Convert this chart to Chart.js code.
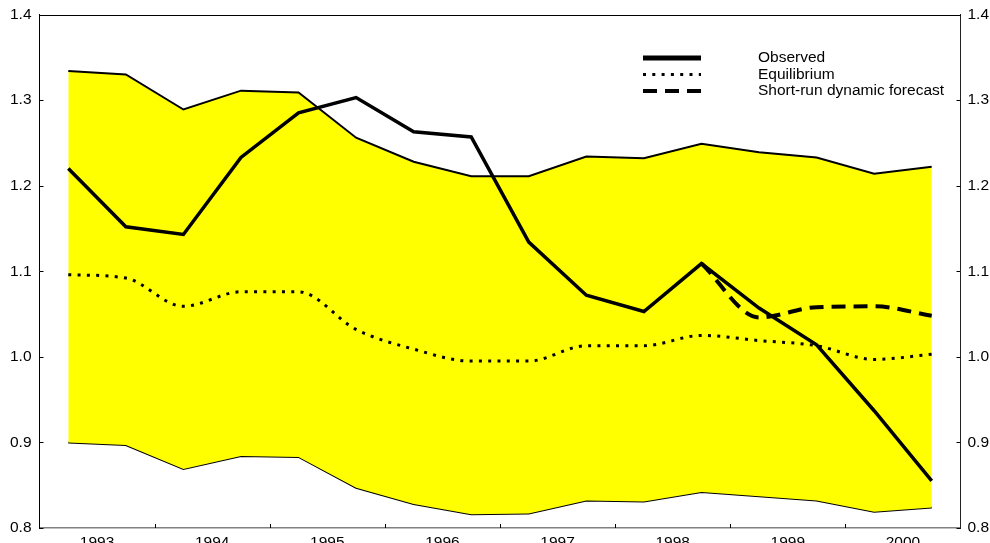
<!DOCTYPE html>
<html>
<head>
<meta charset="utf-8">
<title>Observed vs equilibrium</title>
<script src="https://cdn.jsdelivr.net/npm/chart.js@4.4.1/dist/chart.umd.min.js"></script>
<style>
  html, body { margin: 0; padding: 0; background: #fff; overflow: hidden; }
  #wrap { width: 990px; height: 556px; }
</style>
</head>
<body>
<div id="wrap"><canvas id="chart" width="990" height="556"></canvas></div>
<script>
// half-year observation points (mid-quarter positions on a year axis)
const periods = [1993.25, 1993.75, 1994.25, 1994.75, 1995.25, 1995.75, 1996.25, 1996.75,
                 1997.25, 1997.75, 1998.25, 1998.75, 1999.25, 1999.75, 2000.25, 2000.75];
const yearLabels = [1993, 1994, 1995, 1996, 1997, 1998, 1999, 2000];

const upperBand = [1.334, 1.330, 1.289, 1.311, 1.309, 1.256, 1.228, 1.211,
                   1.211, 1.234, 1.232, 1.249, 1.239, 1.233, 1.214, 1.222];
const lowerBand = [0.900, 0.897, 0.869, 0.884, 0.883, 0.847, 0.828, 0.816,
                   0.817, 0.832, 0.831, 0.842, 0.837, 0.832, 0.819, 0.824];
const observed = [1.220, 1.152, 1.143, 1.233, 1.285, 1.303, 1.263, 1.257,
                  1.134, 1.072, 1.053, 1.109, 1.057, 1.014, 0.937, 0.855];
const equilibrium = [1.096, 1.092, 1.059, 1.076, 1.076, 1.032, 1.009, 0.995,
                     0.995, 1.013, 1.013, 1.025, 1.019, 1.013, 0.997, 1.003];
const forecast = [null, null, null, null, null, null, null, null,
                  null, null, null, 1.109, 1.046, 1.058, 1.059, 1.048];

const FONT = { family: '"Liberation Sans", Arial, Helvetica, sans-serif', size: 15.5 };

const pts = arr => arr.map((v, i) => ({ x: periods[i], y: v }));

// inward tick marks + top frame line
const frame = {
  id: 'frame',
  afterDraw(chart) {
    const { ctx, chartArea: a, scales } = chart;
    ctx.save();
    ctx.strokeStyle = '#000';
    ctx.lineWidth = 1;
    ctx.beginPath();
    ctx.moveTo(a.left, Math.round(a.top) + 0.5);
    ctx.lineTo(a.right, Math.round(a.top) + 0.5);
    scales.y.ticks.forEach(t => {
      const py = Math.round(scales.y.getPixelForValue(t.value)) + 0.5;
      ctx.moveTo(a.left, py); ctx.lineTo(a.left + 4, py);
      ctx.moveTo(a.right - 4, py); ctx.lineTo(a.right, py);
    });
    for (let yr = yearLabels[1]; yr <= yearLabels[yearLabels.length - 1]; yr++) {
      const px = Math.round(scales.x.getPixelForValue(yr)) + 0.5;
      ctx.moveTo(px, a.bottom); ctx.lineTo(px, a.bottom - 4);
    }
    ctx.stroke();
    ctx.restore();
  }
};

// legend: line samples with text to the right
const lineLegend = {
  id: 'lineLegend',
  afterDraw(chart) {
    const { ctx } = chart;
    const items = chart.data.datasets.filter(d => d.legendRow !== undefined)
      .sort((p, q) => p.legendRow - q.legendRow);
    ctx.save();
    ctx.font = `${FONT.size}px ${FONT.family}`;
    ctx.fillStyle = '#000';
    ctx.textBaseline = 'middle';
    items.forEach((d, i) => {
      const y = 58 + i * 16.5;
      ctx.strokeStyle = '#000';
      ctx.lineWidth = d.legendWidth || d.borderWidth;
      ctx.setLineDash(d.borderDash || []);
      ctx.lineCap = 'butt';
      ctx.beginPath();
      ctx.moveTo(643, y);
      ctx.lineTo(701, y);
      ctx.stroke();
      ctx.setLineDash([]);
      ctx.fillText(d.label, 758, y);
    });
    ctx.restore();
  }
};

const noPad = s => { s.paddingTop = 0; s.paddingBottom = 0; };

new Chart(document.getElementById('chart'), {
  type: 'line',
  data: {
    datasets: [
      { label: 'Upper band', data: pts(upperBand), borderColor: '#000', borderWidth: 2,
        backgroundColor: '#ffff00', fill: '+1', pointRadius: 0, tension: 0, order: 5 },
      { label: 'Lower band', data: pts(lowerBand), borderColor: '#000', borderWidth: 2,
        fill: false, pointRadius: 0, tension: 0, order: 5 },
      { label: 'Equilibrium', data: pts(equilibrium), borderColor: '#000', borderWidth: 3,
        borderDash: [3, 6.3], borderCapStyle: 'butt', fill: false, pointRadius: 0,
        cubicInterpolationMode: 'monotone', order: 3, legendRow: 1 },
      { label: 'Short-run dynamic forecast', data: pts(forecast), borderColor: '#000', borderWidth: 4,
        borderDash: [14, 8], fill: false, pointRadius: 0, cubicInterpolationMode: 'monotone',
        spanGaps: false, order: 2, legendRow: 2 },
      { label: 'Observed', data: pts(observed), borderColor: '#000', borderWidth: 3.5,
        legendWidth: 5, fill: false, pointRadius: 0, tension: 0, order: 1, legendRow: 0 }
    ]
  },
  options: {
    responsive: false,
    animation: false,
    events: [],
    layout: { padding: { top: 14.5, left: 0, right: 0, bottom: 0 } },
    plugins: { legend: { display: false }, tooltip: { enabled: false } },
    scales: {
      x: {
        type: 'linear', position: 'bottom', min: 1993, max: 2001,
        afterBuildTicks: s => { s.ticks = yearLabels.map(y => ({ value: y + 0.5 })); },
        afterFit: s => { s.height = 556 - 528; s.paddingLeft = 0; s.paddingRight = 0; },
        ticks: { autoSkip: false, maxRotation: 0, padding: 5, color: '#000', font: FONT,
                 callback: v => String(Math.floor(v)) },
        grid: { display: false, drawTicks: false },
        border: { display: true, color: '#808080', width: 1.5 }
      },
      y: {
        position: 'left', min: 0.8, max: 1.4,
        afterFit: s => { s.width = 39.5; noPad(s); },
        ticks: { stepSize: 0.1, padding: 8, color: '#000', font: FONT,
                 callback: v => v.toFixed(1) },
        grid: { display: false, drawTicks: false },
        border: { display: true, color: '#000', width: 1 }
      },
      y2: {
        position: 'right', min: 0.8, max: 1.4,
        afterFit: s => { s.width = 990 - 960.5; noPad(s); },
        ticks: { stepSize: 0.1, padding: 7, color: '#000', font: FONT,
                 callback: v => v.toFixed(1) },
        grid: { display: false, drawTicks: false },
        border: { display: true, color: '#222', width: 1 }
      }
    }
  },
  plugins: [frame, lineLegend]
});
</script>
</body>
</html>
